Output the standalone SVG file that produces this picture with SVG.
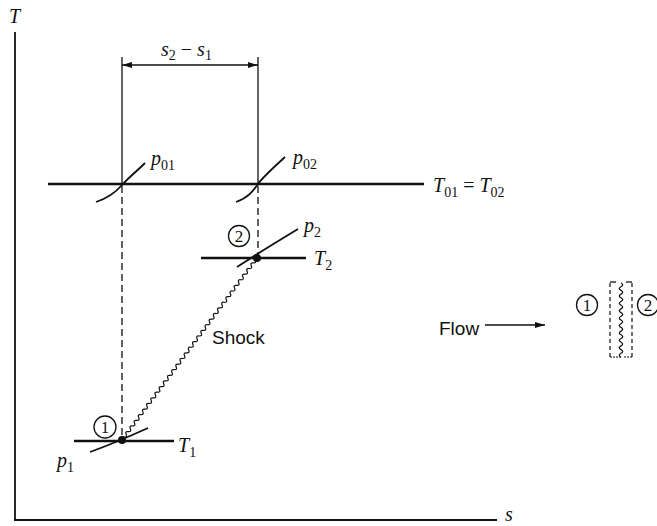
<svg xmlns="http://www.w3.org/2000/svg" width="657" height="526" viewBox="0 0 657 526">
<defs>
<marker id="ah" viewBox="0 0 10 6" refX="10" refY="3" markerWidth="10" markerHeight="6" markerUnits="userSpaceOnUse" orient="auto-start-reverse">
<path d="M0,0 L10,3 L0,6 Z" fill="#111"/>
</marker>
<style>
.ln{stroke:#111;fill:none;stroke-width:1.3}
.thk{stroke:#111;fill:none;stroke-width:2.4}
.med{stroke:#111;fill:none;stroke-width:1.8}
.dash{stroke:#111;fill:none;stroke-width:1.3;stroke-dasharray:7 4}
.sdash{stroke:#111;fill:none;stroke-width:1.2;stroke-dasharray:4 3}
.wave{stroke:#111;fill:none;stroke-width:1.2}
.m{font-family:"Liberation Serif",serif;font-style:italic;font-size:20px;fill:#111}
.sub{font-style:normal;font-size:14px}
.sans{font-family:"Liberation Sans",Arial,sans-serif;font-size:19px;fill:#111}
.num{font-family:"Liberation Serif",serif;font-size:17px;fill:#111;text-anchor:middle}
.circ{stroke:#111;fill:none;stroke-width:1.3}
</style>
</defs>
<rect width="657" height="526" fill="#fff"/>

<g id="axes">
<line class="med" x1="15" y1="32" x2="15" y2="521"/>
<line class="med" x1="14" y1="520" x2="497" y2="520"/>
<text class="m" x="9" y="23">T</text>
<text class="m" x="505" y="521">s</text>
</g>

<g id="dimension">
<line class="ln" x1="122" y1="57" x2="122" y2="185"/>
<line class="ln" x1="258" y1="57" x2="258" y2="185"/>
<line class="ln" x1="122" y1="65" x2="258" y2="65" marker-start="url(#ah)" marker-end="url(#ah)"/>
<text class="m" x="161" y="56">s<tspan class="sub" dy="4">2</tspan><tspan dy="-4" style="font-style:normal"> − </tspan>s<tspan class="sub" dy="4">1</tspan></text>
</g>

<g id="stagnation">
<line class="thk" x1="48" y1="184" x2="424" y2="184"/>
<path class="med" d="M96,202 C108,198 116,192 122,185 S136,172 145,163"/>
<path class="med" d="M236,202 C248,198 253,191 258,184 S274,167 285,157"/>
<text class="m" x="151" y="165">p<tspan class="sub" dy="5">01</tspan></text>
<text class="m" x="293" y="164">p<tspan class="sub" dy="5">02</tspan></text>
<text class="m" x="433" y="192">T<tspan class="sub" dy="5">01</tspan><tspan dy="-5" style="font-style:normal"> = </tspan>T<tspan class="sub" dy="5">02</tspan></text>
</g>

<g id="connectors">
<line class="dash" x1="122" y1="186" x2="122" y2="438"/>
<line class="dash" x1="258" y1="186" x2="258" y2="256"/>
<g transform="translate(122,440) rotate(-53.44)">
<path class="wave" d="M0,0 q1.75,-3 3.5,0 t3.5,0 t3.5,0 t3.5,0 t3.5,0 t3.5,0 t3.5,0 t3.5,0 t3.5,0 t3.5,0 t3.5,0 t3.5,0 t3.5,0 t3.5,0 t3.5,0 t3.5,0 t3.5,0 t3.5,0 t3.5,0 t3.5,0 t3.5,0 t3.5,0 t3.5,0 t3.5,0 t3.5,0 t3.5,0 t3.5,0 t3.5,0 t3.5,0 t3.5,0 t3.5,0 t3.5,0 t3.5,0 t3.5,0 t3.5,0 t3.5,0 t3.5,0 t3.5,0 t3.5,0 t3.5,0 t3.5,0 t3.5,0 t3.5,0 t3.5,0 t3.5,0 t3.5,0 t3.5,0 t3.5,0 t3.5,0 t3.5,0 t3.5,0 t3.5,0 t3.5,0 t3.5,0 t3.5,0 t3.5,0 t3.5,0 t3.5,0 t3.5,0 t3.5,0 t3.5,0 t3.5,0 t3.5,0 t3.5,0"/>
</g>
<text class="sans" x="212" y="344">Shock</text>
</g>

<g id="state2">
<line class="thk" x1="201" y1="258" x2="306" y2="258"/>
<path class="med" d="M237,267 Q260,252 298,229"/>
<circle cx="257" cy="258" r="4" fill="#111"/>
<circle class="circ" cx="239" cy="236" r="10.5"/>
<text class="num" x="239" y="242">2</text>
<text class="m" x="304" y="232">p<tspan class="sub" dy="5">2</tspan></text>
<text class="m" x="314" y="265">T<tspan class="sub" dy="5">2</tspan></text>
</g>

<g id="state1">
<line class="thk" x1="74" y1="441" x2="174" y2="441"/>
<path class="med" d="M90,452 Q115,443 148,428"/>
<circle cx="122" cy="440" r="4" fill="#111"/>
<circle class="circ" cx="105" cy="427" r="11"/>
<text class="num" x="105" y="433">1</text>
<text class="m" x="178" y="452">T<tspan class="sub" dy="5">1</tspan></text>
<text class="m" x="57" y="467">p<tspan class="sub" dy="5">1</tspan></text>
</g>

<g id="flow">
<text class="sans" x="439" y="335">Flow</text>
<line class="ln" x1="485" y1="325" x2="545" y2="325" marker-end="url(#ah)"/>
<circle class="circ" cx="587" cy="305" r="10.5"/>
<text class="num" x="587" y="311">1</text>
<circle class="circ" cx="648" cy="305" r="10.5"/>
<text class="num" x="648" y="311">2</text>
<line class="sdash" x1="610" y1="283" x2="610" y2="357"/>
<line class="sdash" x1="632" y1="283" x2="632" y2="357"/>
<line class="ln" x1="610" y1="282" x2="616" y2="282"/>
<line class="ln" x1="626" y1="282" x2="632" y2="282"/>
<line class="sdash" x1="610" y1="357" x2="621" y2="357" style="stroke-dasharray:2 1"/>
<line class="sdash" x1="624" y1="357" x2="632" y2="357" style="stroke-dasharray:2 1"/>
<g transform="translate(621,283) rotate(90)">
<path class="wave" d="M0,0 q1.85,-3.5 3.7,0 t3.7,0 t3.7,0 t3.7,0 t3.7,0 t3.7,0 t3.7,0 t3.7,0 t3.7,0 t3.7,0 t3.7,0 t3.7,0 t3.7,0 t3.7,0 t3.7,0 t3.7,0 t3.7,0 t3.7,0 t3.7,0 t3.7,0"/>
</g>
</g>
</svg>
